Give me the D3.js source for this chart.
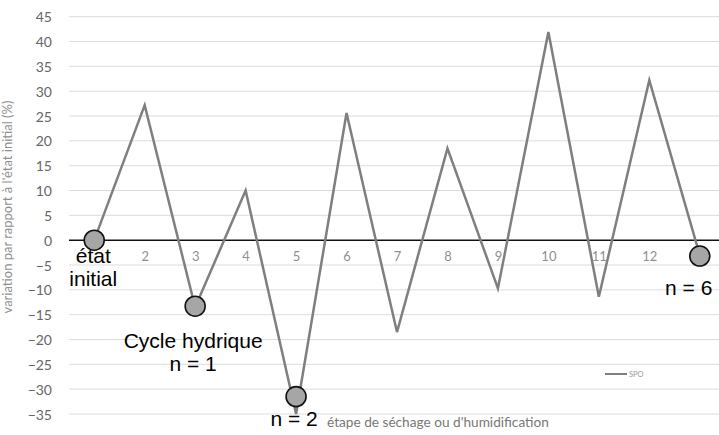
<!DOCTYPE html>
<html><head><meta charset="utf-8">
<script src="https://cdn.jsdelivr.net/npm/d3@7"></script>
<style>body{margin:0;background:#fff}svg{display:block}</style>
</head><body>
<script>
const steps = [1,2,3,4,5,6,7,8,9,10,11,12,13];
const spo = [0, 27.2, -13.5, 10, -35, 25.6, -18.5, 18.5, -9.7, 41.9, -11.4, 32.2, -3];
const xTickLabels = ["", "2","3","4","5","6","7","8","9","10","11","12", ""];
const yTicks = [45,40,35,30,25,20,15,10,5,0,-5,-10,-15,-20,-25,-30,-35];
const markerSteps = [1, 3, 5, 13];
const markerValues = [0, -13.3, -31.5, -3.2];
const annotations = [
  {lines:["état","initial"], step:1, dx:-1},
  {lines:["Cycle hydrique","n = 1"], step:3, dx:-2},
  {lines:["n = 2"], step:5, dx:-2},
  {lines:["n = 6"], step:13, dx:-11}
];

const W=719,H=435;
const svg=d3.select("body").append("svg").attr("width",W).attr("height",H);
const x=d3.scalePoint().domain(steps).range([69,725]).padding(0.5);
const y=d3.scaleLinear().domain([-35,45]).range([414,16.7]);
const font="Lato, 'Open Sans', sans-serif";

function fitText(sel, target){
  const fs=+sel.attr("font-size");
  const len=sel.node().getComputedTextLength();
  if(len>0) sel.attr("font-size", fs*target/len);
}

// gridlines
svg.append("g").selectAll("line").data(yTicks.filter(d=>d!==0)).join("line")
  .attr("x1",69).attr("x2",W).attr("y1",d=>y(d)).attr("y2",d=>y(d))
  .attr("stroke","#dcdcdc").attr("stroke-width",1);

// y axis labels
const yAxis=d3.axisLeft(y).tickValues(yTicks).tickSize(0).tickPadding(0);
const gy=svg.append("g").attr("transform","translate(52,0)").call(yAxis);
gy.select(".domain").remove();
gy.selectAll("text").attr("font-family",font).attr("font-size",14).attr("fill","#666").attr("dy","0.36em");

// zero line
svg.append("line").attr("x1",69).attr("x2",W).attr("y1",y(0)).attr("y2",y(0))
  .attr("stroke","#111").attr("stroke-width",1.5);

// x axis labels
const xAxis=d3.axisBottom(x).tickFormat((d,i)=>xTickLabels[i]).tickSize(0).tickPadding(0);
const gx=svg.append("g").attr("transform",`translate(0,${y(0)})`).call(xAxis);
gx.select(".domain").remove();
gx.selectAll("text").attr("font-family",font).attr("font-size",13).attr("fill","#8f8f8f").attr("y",12).attr("dy","0.71em");

// series line
const line=d3.line().x((d,i)=>x(steps[i])).y(d=>y(d));
svg.append("path").datum(spo).attr("d",line).attr("fill","none")
  .attr("stroke","#7f7f7f").attr("stroke-width",2.5).attr("stroke-linejoin","miter");

// axis titles
const yt=svg.append("text").attr("transform","translate(12,207) rotate(-90)").attr("text-anchor","middle")
  .attr("font-family",font).attr("font-size",10.5).attr("fill","#8f8f8f")
  .text("variation par rapport à l'état initial (%)");
fitText(yt,213);
const xt=svg.append("text").attr("x",327).attr("y",427).attr("font-family",font).attr("font-size",12)
  .attr("fill","#777").text("étape de séchage ou d'humidification");
fitText(xt,222);

// legend
svg.append("line").attr("x1",605).attr("x2",627).attr("y1",374).attr("y2",374)
  .attr("stroke","#7f7f7f").attr("stroke-width",2);
svg.append("text").attr("x",629).attr("y",376.5).attr("font-family",font).attr("font-size",7.5)
  .attr("fill","#999").text("SPO");

// markers
svg.append("g").selectAll("circle").data(markerSteps).join("circle")
  .attr("cx",d=>x(d)).attr("cy",(d,i)=>y(markerValues[i])).attr("r",10)
  .attr("fill","#a6a6a6").attr("stroke","#111").attr("stroke-width",1.6);

// annotations
const annFont="'Liberation Sans', Arial, sans-serif";
const annY={1:[262.5,286],3:[348,371],5:[426],13:[295]};
annotations.forEach(a=>{
  a.lines.forEach((t,k)=>{
    svg.append("text").attr("x",x(a.step)+a.dx).attr("y",annY[a.step][k])
      .attr("text-anchor","middle").attr("font-family",annFont).attr("font-size",21)
      .attr("fill","#000").text(t);
  });
});
</script>
</body></html>
